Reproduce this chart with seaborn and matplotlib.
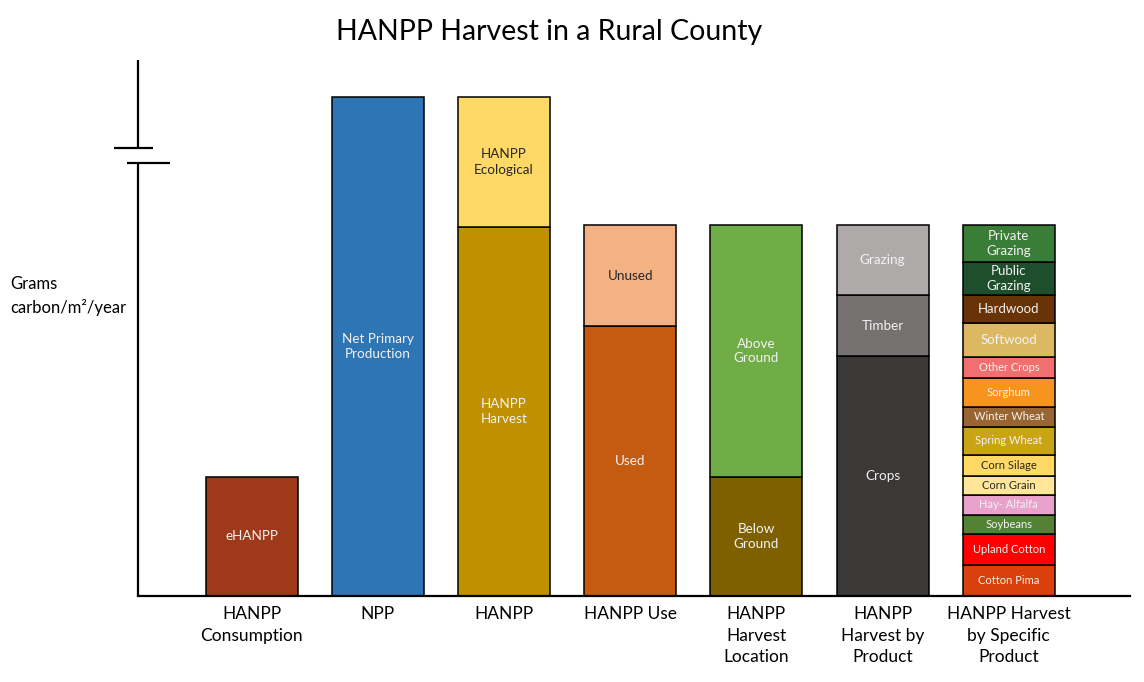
import pandas as pd
import matplotlib.pyplot as plt
import matplotlib.transforms as mtransforms
import seaborn as sns

# Categories (x axis)
groups = ['HANPP\nConsumption', 'NPP', 'HANPP', 'HANPP Use',
          'HANPP\nHarvest\nLocation', 'HANPP\nHarvest by\nProduct',
          'HANPP Harvest\nby Specific\nProduct']

# Stacked segments of each bar, bottom to top (relative units)
consumption_parts = ['eHANPP']
consumption_vals = [119]
npp_parts = ['Net Primary\nProduction']
npp_vals = [499]
hanpp_parts = ['HANPP\nHarvest', 'HANPP\nEcological']
hanpp_vals = [369, 130]
use_parts = ['Used', 'Unused']
use_vals = [270, 101]
location_parts = ['Below\nGround', 'Above\nGround']
location_vals = [119, 252]
product_parts = ['Crops', 'Timber', 'Grazing']
product_vals = [240, 61, 70]
specific_parts = ['Cotton Pima', 'Upland Cotton', 'Soybeans', 'Hay- Alfalfa',
                  'Corn Grain', 'Corn Silage', 'Spring Wheat', 'Winter Wheat',
                  'Sorghum', 'Other Crops', 'Softwood', 'Hardwood',
                  'Public\nGrazing', 'Private\nGrazing']
specific_vals = [31, 31, 19, 20, 19, 21, 28, 20, 29, 21, 34, 28, 33, 37]

colors = {
    'eHANPP': '#9E3A1A', 'Net Primary\nProduction': '#2E75B6',
    'HANPP\nHarvest': '#BF9000', 'HANPP\nEcological': '#FFD966',
    'Used': '#C55A11', 'Unused': '#F4B183',
    'Below\nGround': '#7F6000', 'Above\nGround': '#70AD47',
    'Crops': '#3B3838', 'Timber': '#767171', 'Grazing': '#AEAAAA',
    'Cotton Pima': '#D9400C', 'Upland Cotton': '#FF0000', 'Soybeans': '#548235',
    'Hay- Alfalfa': '#E8A2CC', 'Corn Grain': '#FFE699', 'Corn Silage': '#FFD966',
    'Spring Wheat': '#C9A415', 'Winter Wheat': '#996633', 'Sorghum': '#F7941D',
    'Other Crops': '#F07070', 'Softwood': '#DDB863', 'Hardwood': '#683306',
    'Public\nGrazing': '#1F4E2C', 'Private\nGrazing': '#3A7D36',
}
dark_text = {'HANPP\nEcological', 'Unused', 'Corn Grain', 'Corn Silage'}
big_specific = {'Softwood', 'Hardwood', 'Public\nGrazing', 'Private\nGrazing'}

rows = []
for g, parts, vals in zip(groups,
                          [consumption_parts, npp_parts, hanpp_parts, use_parts,
                           location_parts, product_parts, specific_parts],
                          [consumption_vals, npp_vals, hanpp_vals, use_vals,
                           location_vals, product_vals, specific_vals]):
    bottom = 0
    for p, v in zip(parts, vals):
        rows.append({'group': g, 'segment': p, 'value': v, 'bottom': bottom})
        bottom += v
df = pd.DataFrame(rows)

sns.set_style('white')
plt.rcParams['font.family'] = ['Lato', 'DejaVu Sans']
plt.rcParams['text.color'] = 'black'
plt.rcParams['xtick.color'] = 'black'

fig = plt.figure(figsize=(11.44, 6.82), dpi=100)
ax = fig.add_axes([138 / 1144, 1 - 596 / 682, 992 / 1144, 536 / 682])

for _, r in df.iterrows():
    sns.barplot(x=[r['group']], y=[r['value']], bottom=r['bottom'], order=groups,
                color=colors[r['segment']], saturation=1, width=0.73,
                edgecolor='black', linewidth=1.1, errorbar=None, ax=ax)
    i = groups.index(r['group'])
    if i == 6:
        fs = 9.5 if r['segment'] in big_specific else 8
    else:
        fs = 9.7
    ax.text(i, r['bottom'] + r['value'] / 2, r['segment'], ha='center', va='center',
            fontsize=fs, linespacing=1.3,
            color='#262626' if r['segment'] in dark_text else '#F2F2F2')

ax.set_xlim(-0.9, 6.96)
ax.set_ylim(0, 536)
ax.set_xlabel('')
ax.set_ylabel('')
ax.set_yticks([])
ax.tick_params(axis='x', length=0, pad=7, labelsize=12.5, labelcolor='black')
for lbl in ax.get_xticklabels():
    lbl.set_linespacing(1.45)
    lbl.set_verticalalignment('top')
for s in ['top', 'right', 'left']:
    ax.spines[s].set_visible(False)
ax.spines['bottom'].set_color('black')
ax.spines['bottom'].set_linewidth(1.6)

# broken y axis
tr = mtransforms.blended_transform_factory(ax.transAxes, ax.transData)
kw = dict(color='black', lw=1.6, transform=tr, clip_on=False, solid_capstyle='butt')
ax.plot([0, 0], [0, 433], **kw)
ax.plot([0, 0], [448, 536], **kw)
ax.plot([-0.0242, 0.0151], [448, 448], **kw)
ax.plot([-0.0111, 0.0323], [433, 433], **kw)

fig.text(549 / 1144, 1 - 32 / 682, 'HANPP Harvest in a Rural County',
         ha='center', va='center', fontsize=20.5, color='black')
fig.text(10 / 1144, 1 - 296 / 682, 'Grams\ncarbon/m²/year', ha='left', va='center',
         fontsize=12, linespacing=1.45, color='black')

fig.savefig('out.png', dpi=100)
